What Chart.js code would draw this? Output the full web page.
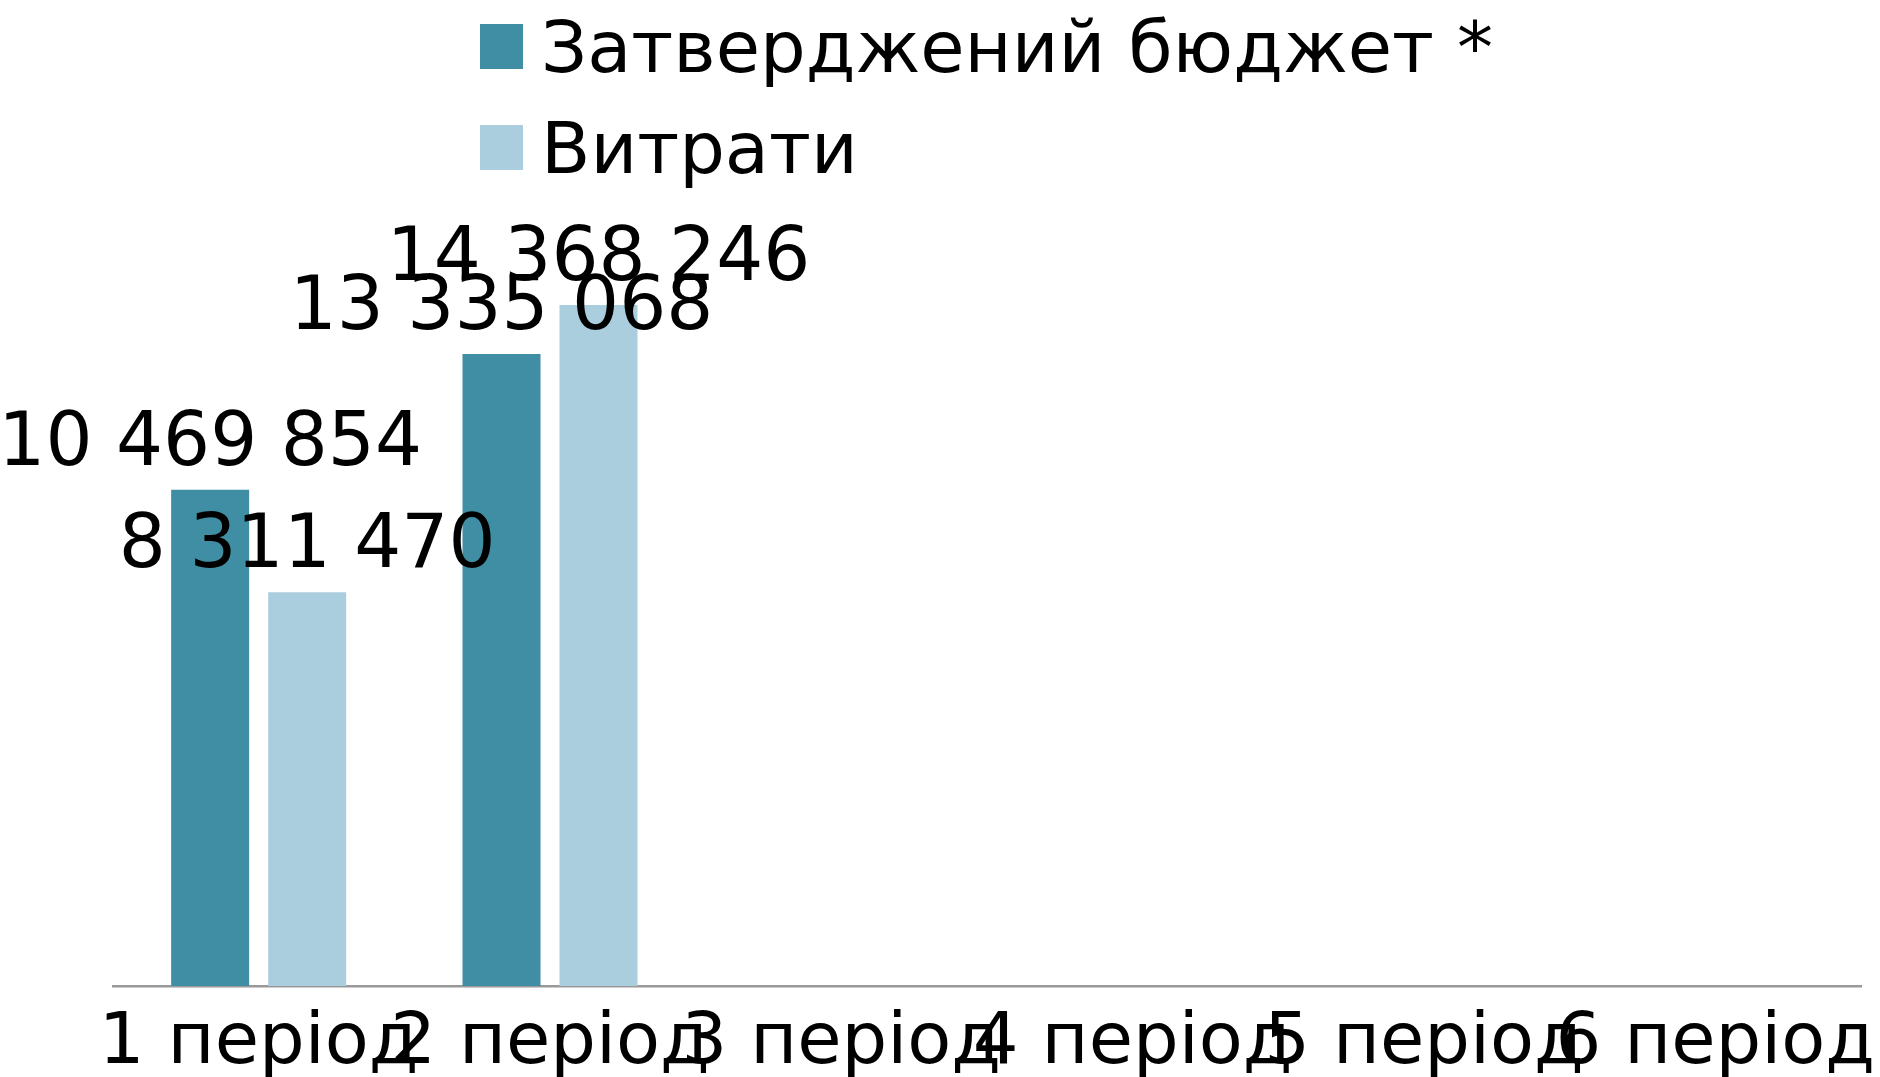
<!DOCTYPE html>
<html>
<head>
<meta charset="utf-8">
<script src="https://cdn.jsdelivr.net/npm/chart.js@4.4.0/dist/chart.umd.min.js"></script>
<style>
  html, body { margin: 0; padding: 0; background: #fff; }
  #wrap { position: relative; width: 1880px; height: 1077px; overflow: hidden; }
  #legend { position: absolute; left: 480px; top: 24px; font-family: 'DejaVu Sans', sans-serif; font-size: 72px; color: #000; }
  #legend .row { display: flex; align-items: center; height: 45px; margin-bottom: 56px; white-space: nowrap; }
  #legend .box { width: 43px; height: 45px; margin-right: 18px; flex: none; }
  #legend .txt { line-height: 1; }
</style>
</head>
<body>
<div id="wrap">
  <canvas id="chart"></canvas>
  <div id="legend"></div>
</div>
<script>
/* ── Data ─────────────────────────────── */
const periods  = ['1 період', '2 період', '3 період', '4 період', '5 період', '6 період'];
const budget   = [10469854, 13335068, null, null, null, null];
const spent    = [8311470, 14368246, null, null, null, null];
const seriesNames = ['Затверджений бюджет *', 'Витрати'];
const yMax = 18000000;

const FONT = "'DejaVu Sans', sans-serif";
const fmt = n => String(n).replace(/\B(?=(\d{3})+(?!\d))/g, ' ');

/* ── Value labels above bars ──────────── */
const valueLabels = {
  id: 'valueLabels',
  afterDatasetsDraw(chart) {
    const ctx = chart.ctx;
    ctx.save();
    ctx.font = '74px ' + FONT;
    ctx.fillStyle = '#000';
    ctx.textAlign = 'center';
    ctx.textBaseline = 'alphabetic';
    chart.data.datasets.forEach((ds, i) => {
      chart.getDatasetMeta(i).data.forEach((bar, j) => {
        if (ds.data[j] == null) return;
        ctx.fillText(fmt(ds.data[j]), bar.x, bar.y - 25);
      });
    });
    ctx.restore();
  }
};

const chart = new Chart(document.getElementById('chart'), {
  type: 'bar',
  data: {
    labels: periods,
    datasets: [
      { label: seriesNames[0], data: budget, backgroundColor: '#3f8ea3' },
      { label: seriesNames[1], data: spent,  backgroundColor: '#aacedd' },
    ],
  },
  options: {
    responsive: true,
    maintainAspectRatio: false,
    animation: false,
    layout: { padding: { left: 113, right: 19, top: 133, bottom: 0 } },
    datasets: { bar: { categoryPercentage: 0.666, barPercentage: 0.804 } },
    plugins: { legend: { display: false }, tooltip: { enabled: false } },
    scales: {
      x: {
        grid: { display: false, drawTicks: false },
        border: { display: true, color: '#999999', width: 2.5 },
        ticks: { color: '#000', font: { family: FONT, size: 72 }, padding: 15, maxRotation: 0, autoSkip: false },
        // labels run past the plot edges like the original; keep the band fixed
        afterFit: s => { s.height = 91; s.paddingLeft = 0; s.paddingRight = 0; },
      },
      y: { display: false, min: 0, max: yMax },
    },
  },
  plugins: [valueLabels],
});

/* ── Legend ───────────────────────────── */
document.getElementById('legend').innerHTML = chart.data.datasets.map(d => `
  <div class="row"><span class="box" style="background:${d.backgroundColor}"></span><span class="txt">${d.label}</span></div>`).join('');
</script>
</body>
</html>
